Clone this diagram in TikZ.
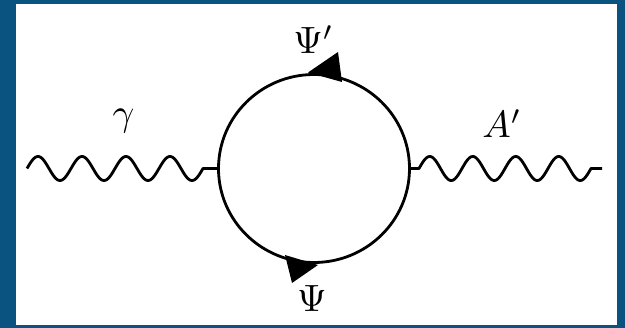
\documentclass[tikz,border=0pt]{standalone}
\usepackage{graphicx}
\usetikzlibrary{shapes.geometric}
\definecolor{frameblue}{RGB}{10,82,128}
\begin{document}
\begin{tikzpicture}[x=1pt,y=-1pt,
  fermion/.style={line width=2.8pt},
  photon/.style={line width=2.8pt, line join=round},
  arrowhead/.style={fill=black, draw=none},
  lbl/.style={inner sep=0pt}]
\fill[frameblue] (0,0) rectangle (625,328);
\fill[white] (16,4) rectangle (617,325);
\useasboundingbox (0,0) rectangle (625,328);
\node[ellipse, draw, fermion, minimum width=191pt, minimum height=188pt, inner sep=0pt] (loop) at (314,168.5) {};
\coordinate (gin) at (27,168.5);
\coordinate (aout) at (602,168.5);
\draw[photon] (gin) -- plot[domain=0:176, samples=240, smooth] ({27+\x}, {168.5-12*sin(\x/44*360)}) -- (loop.west);
\draw[photon] (loop.east) -- plot[domain=0:172, samples=240, smooth] ({419+\x}, {168.5-12*sin(\x/43*360)}) -- (aout);
\fill[arrowhead] (308,72.5) -- (338,52) -- (342,82) -- cycle;
\fill[arrowhead] (285,255) -- (292,283) -- (318,265) -- cycle;
\node[lbl, anchor=base] (psip) at (313.5,54) {\scalebox{3.8}{$\Psi'$}};
\node[lbl, anchor=base] (psi) at (312,312) {\scalebox{3.8}{$\Psi$}};
\node[lbl, anchor=base] (gam) at (123.5,126) {\scalebox{3.8}{$\gamma$}};
\node[lbl, anchor=base] (ap) at (502,138) {\scalebox{3.8}{$A'$}};
\end{tikzpicture}
\end{document}
